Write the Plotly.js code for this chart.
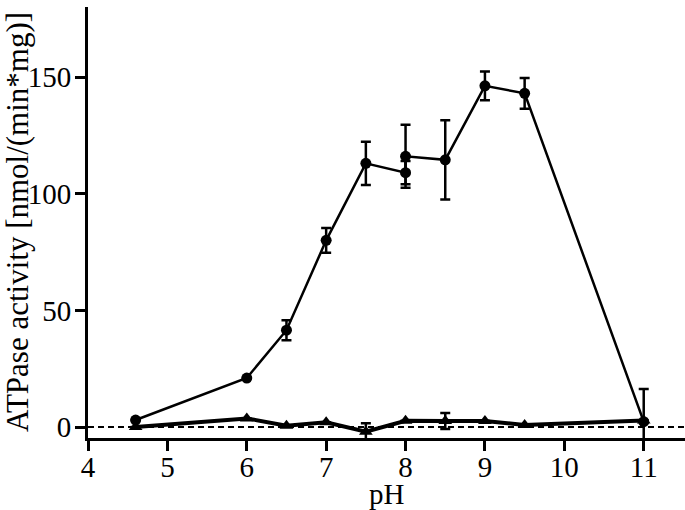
<!DOCTYPE html>
<html>
<head>
<meta charset="utf-8">
<script src="https://cdn.plot.ly/plotly-3.0.1.min.js"></script>
<style>
  html, body { margin: 0; padding: 0; background: #fff; }
  #chart { width: 685px; height: 510px; }
</style>
</head>
<body>
<div id="chart"></div>
<script>
// ATPase activity vs pH — two series (circles = active, triangles = control)

const PH_CIRCLE = [4.6, 6, 6.5, 7, 7.5, 8, 8, 8.5, 9, 9.5, 11];
const ACT_CIRCLE = [3, 21, 41.5, 80, 113, 109, 116, 114.5, 146.2, 143, 2.3];
const ERR_CIRCLE = [0, 0, 4.3, 5.3, 9.3, 5, 13.5, 17, 6.2, 6.6, 14];

const PH_TRIANGLE = [4.6, 6, 6.5, 7, 7.5, 8, 8.5, 9, 9.5, 11];
const ACT_TRIANGLE = [0, 3.7, 0.6, 2, -2, 2.7, 2.6, 2.6, 0.9, 2.8];
const ERR_TRIANGLE = [0, 0, 0, 0, 3.6, 0, 3.4, 0, 0, 0];

const X_TICKS = [4, 5, 6, 7, 8, 9, 10, 11];
const Y_TICKS = [0, 50, 100, 150];

const SERIF = 'Liberation Serif, Times New Roman, serif';
const FONT = { family: SERIF, size: 29, color: '#000' };
const TITLE_FONT = { family: SERIF, size: 31, color: '#000' };

const errBar = (arr, thick) => ({
  type: 'data', array: arr, visible: true,
  color: '#000', thickness: thick, width: 5,
});

const traces = [
  {
    x: PH_TRIANGLE, y: ACT_TRIANGLE, type: 'scatter', mode: 'lines+markers',
    line: { color: '#000', width: 4 },
    marker: { symbol: 'triangle-up', size: 12, color: '#000' },
    error_y: errBar(ERR_TRIANGLE, 2.5),
    cliponaxis: false,
  },
  {
    x: PH_CIRCLE, y: ACT_CIRCLE, type: 'scatter', mode: 'lines+markers',
    line: { color: '#000', width: 2.5 },
    marker: { symbol: 'circle', size: 11, color: '#000' },
    error_y: errBar(ERR_CIRCLE, 2.5),
    cliponaxis: false,
  },
];

const axisStyle = {
  showline: true, linecolor: '#000', linewidth: 3,
  ticks: 'outside', ticklen: 10, tickwidth: 3, tickcolor: '#000',
  showgrid: false, zeroline: false,
  tickfont: FONT,
};

const layout = {
  width: 685, height: 510,
  margin: { l: 88, r: 0, t: 7, b: 72 },
  paper_bgcolor: '#fff', plot_bgcolor: '#fff',
  showlegend: false,
  xaxis: { ...axisStyle, range: [4, 11.52], tickvals: X_TICKS, ticklabelstandoff: -9 },
  yaxis: { ...axisStyle, range: [-4.7, 180], tickvals: Y_TICKS, ticklabelstandoff: -2 },
  // dashed baseline at zero activity
  shapes: [{
    type: 'line', xref: 'paper', x0: 0, x1: 1, yref: 'y', y0: 0, y1: 0,
    line: { color: '#000', width: 2, dash: '6px,4px' },
    layer: 'below',
  }],
  annotations: [
    {
      text: 'ATPase activity [nmol/(min*mg)]',
      textangle: -90, showarrow: false,
      xref: 'paper', yref: 'paper', x: -0.118, y: 0.5,
      xanchor: 'center', yanchor: 'middle',
      font: TITLE_FONT,
    },
    {
      text: 'pH', showarrow: false,
      xref: 'paper', yref: 'paper', x: 0.5, y: -0.131,
      xanchor: 'center', yanchor: 'middle',
      font: FONT,
    },
  ],
};

Plotly.newPlot('chart', traces, layout, { staticPlot: true, displayModeBar: false });
</script>
</body>
</html>
